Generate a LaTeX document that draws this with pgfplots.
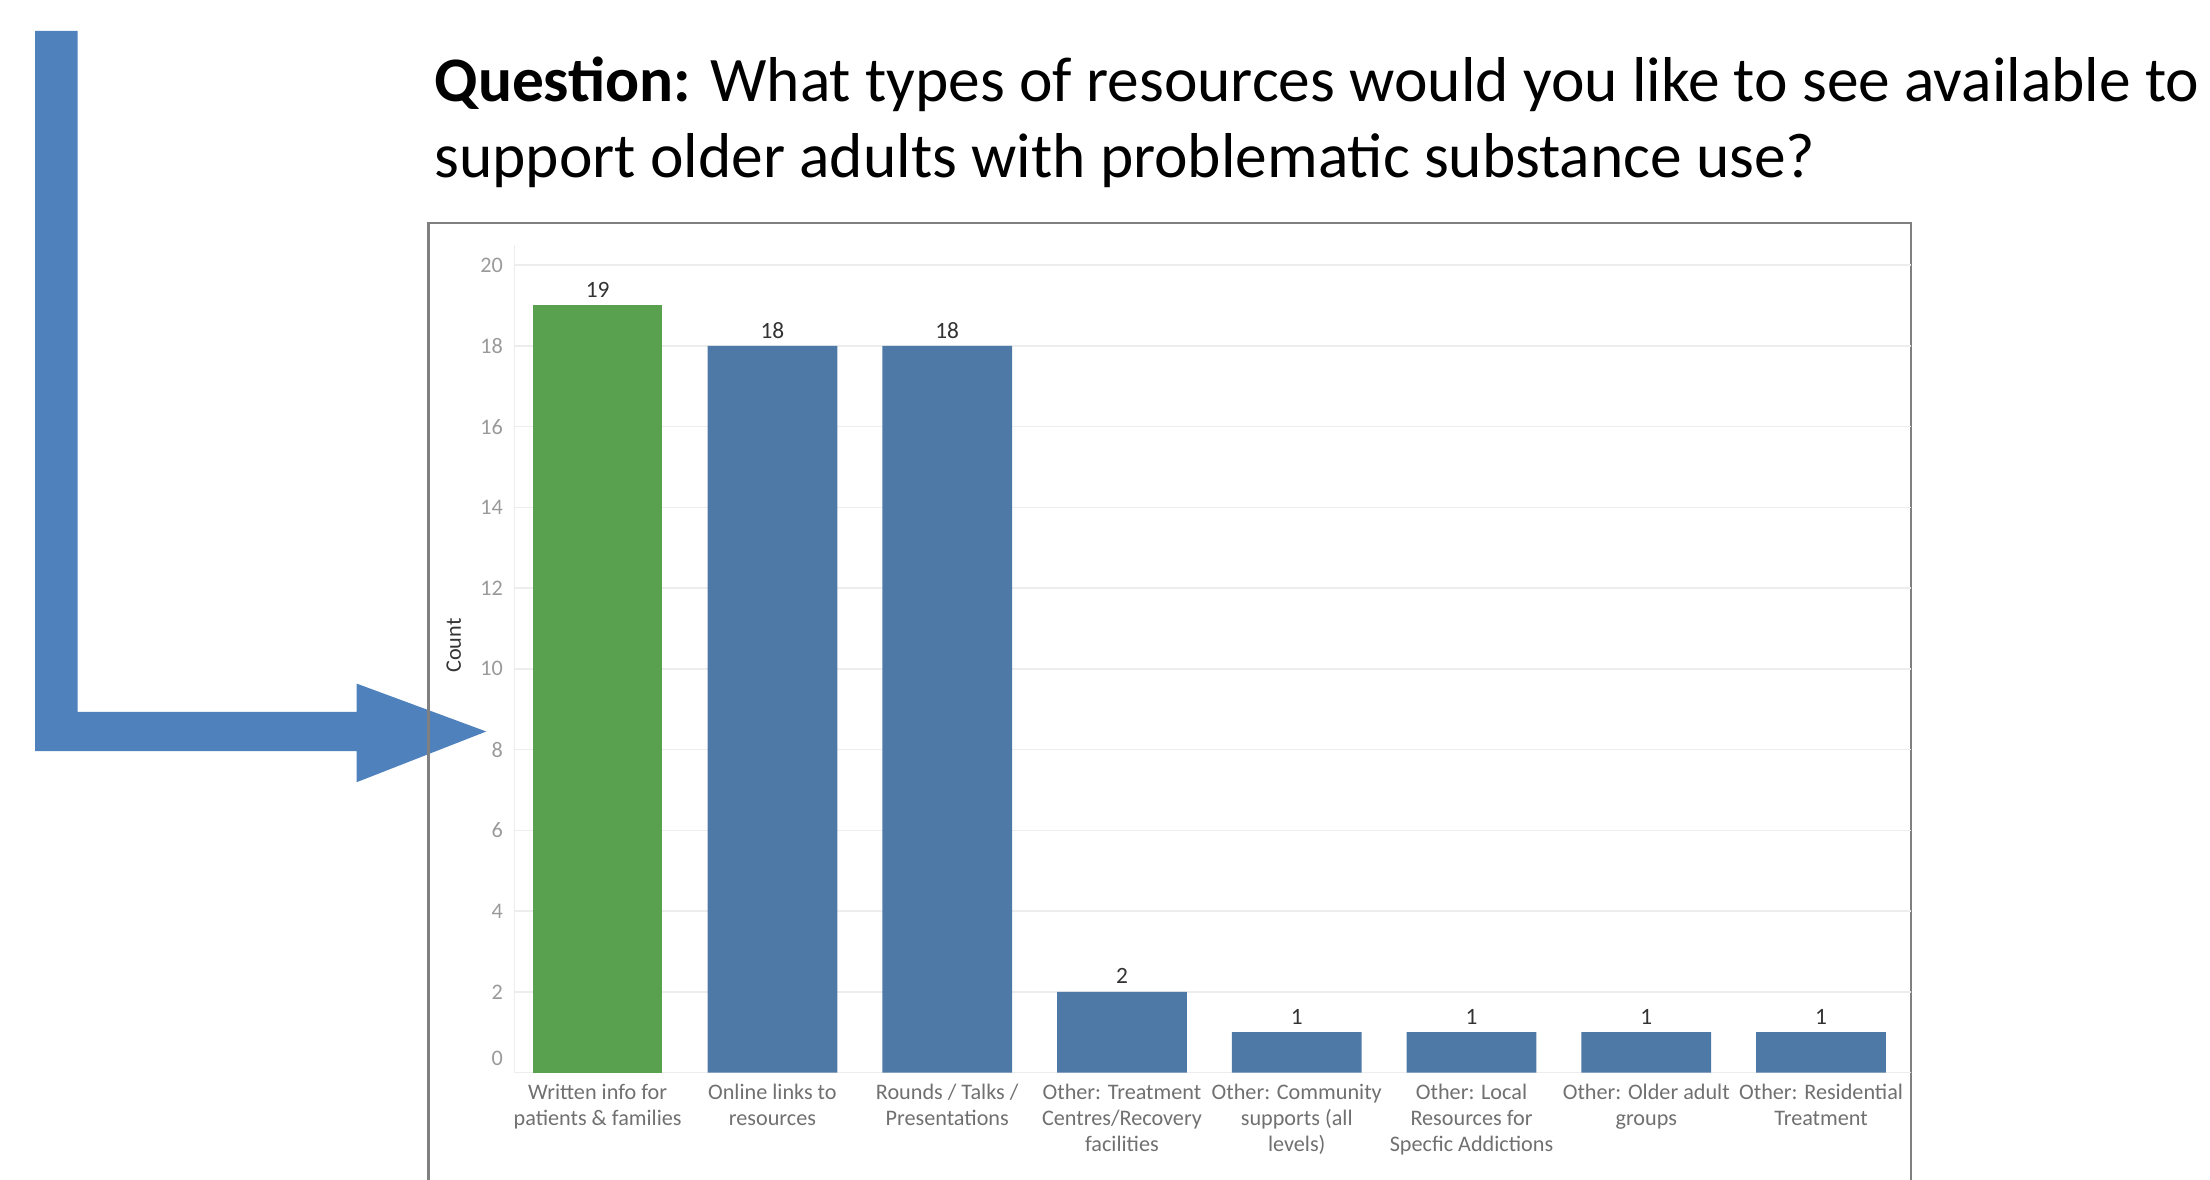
\documentclass[border=0pt]{standalone}
\usepackage{fontspec}
\setmainfont{Carlito}
\usepackage{pgfplots}
\pgfplotsset{compat=1.18}

\definecolor{barGreen}{HTML}{59A14F}
\definecolor{barBlue}{HTML}{4E79A7}
\definecolor{arrowBlue}{HTML}{4F81BD}
\definecolor{frameGray}{HTML}{808080}
\definecolor{gridGray}{HTML}{EDEDED}
\definecolor{tickGray}{HTML}{9A9A9A}
\definecolor{labelGray}{HTML}{707070}
\definecolor{valueGray}{HTML}{333333}

\newcommand{\smallfont}{\fontsize{11.2}{13.2}\selectfont}

\begin{document}
\begin{tikzpicture}[x=0.25mm,y=0.25mm]
\useasboundingbox (0,0) rectangle (1568,837);

% elbow arrow pointing at the chart
\fill[arrowBlue] (25,815) -- (55,815) -- (55,332) -- (253,332) -- (253,352)
  -- (345,318) -- (253,282) -- (253,304) -- (25,304) -- cycle;

% question text
\node[anchor=base west, inner sep=0pt] at (308,765)
  {\fontsize{32}{38}\selectfont\textbf{Question:} What types of resources would you like to see available to};
\node[anchor=base west, inner sep=0pt] at (308,711)
  {\fontsize{32}{38}\selectfont support older adults with problematic substance use?};

% chart frame
\draw[frameGray, line width=0.4mm] (304,0) -- (304,679) -- (1356,679) -- (1356,0);

\begin{axis}[
  at={(91.25mm,19mm)}, anchor=south west,
  scale only axis, width=247.75mm, height=146.8mm,
  xmin=-0.476, xmax=7.516, ymin=0, ymax=20.5,
  ybar, bar width=23mm, bar shift=0pt,
  axis x line*=bottom, axis y line*=left,
  x axis line style={draw=none},
  y axis line style={draw=gridGray, line width=0.25mm},
  major tick length=0pt,
  ymajorgrids, grid style={gridGray, line width=0.25mm},
  ytick={2,4,...,20},
  extra y ticks={0},
  extra y tick style={yticklabel style={yshift=2.5mm}},
  /pgf/number format/assume math mode=true,
  yticklabel style={font=\smallfont, color=tickGray, anchor=east, inner sep=0pt, xshift=-2mm},
  xtick={0,...,7},
  xticklabels={
    {Written info for\\patients \& families},
    {Online links to\\resources},
    {Rounds / Talks /\\Presentations},
    {Other: Treatment\\Centres/Recovery\\facilities},
    {Other: Community\\supports (all\\levels)},
    {Other: Local\\Resources for\\Specfic Addictions},
    {Other: Older adult\\groups},
    {Other: Residential\\Treatment}},
  xticklabel style={font=\smallfont, color=labelGray, align=center, anchor=north, inner sep=0pt, yshift=-2mm},
  nodes near coords,
  nodes near coords style={font=\fontsize{11.8}{13}\selectfont, color=valueGray, anchor=center, yshift=2.75mm},
  clip=false,
]
\addplot[fill=barGreen, draw=none] coordinates {(0,19)};
\addplot[fill=barBlue, draw=none] coordinates {(1,18) (2,18) (3,2) (4,1) (5,1) (6,1) (7,1)};
\end{axis}

% axis title
\node[rotate=90, font=\smallfont, color=valueGray] at (322,379) {Count};
\end{tikzpicture}
\end{document}
